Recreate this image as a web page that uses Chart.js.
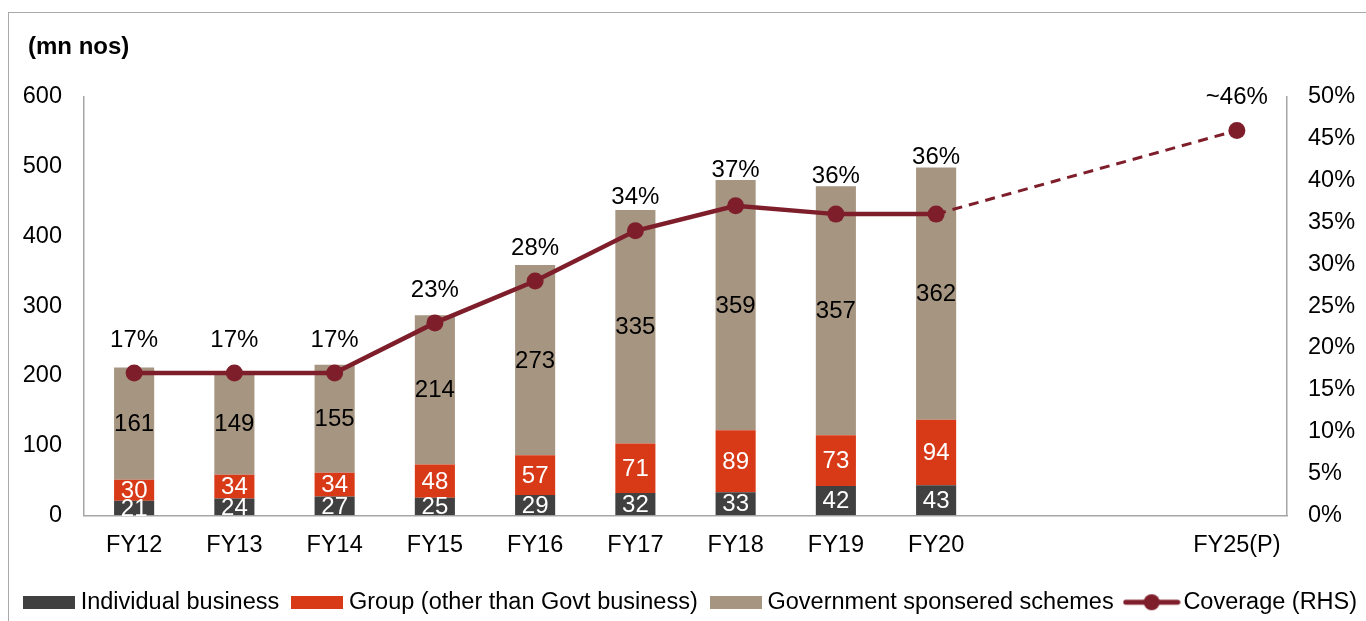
<!DOCTYPE html>
<html>
<head>
<meta charset="utf-8">
<title>Lives covered</title>
<script src="https://cdn.jsdelivr.net/npm/chart.js@4/dist/chart.umd.min.js"></script>
<style>
    html, body { margin: 0; padding: 0; background: #fff; overflow: hidden; }
    #frame {
        position: absolute; left: 8px; top: 12px;
        width: 1400px; height: 700px;
        border: 1.5px solid #a9a9a9;
    }
    #wrap { position: absolute; left: 0; top: 0; width: 1366px; height: 621px; }
</style>
</head>
<body>
<div id="frame"></div>
<div id="wrap"><canvas id="livesChart"></canvas></div>
<script>
// ====================================
// DATA
// ====================================

const years = ['FY12', 'FY13', 'FY14', 'FY15', 'FY16', 'FY17', 'FY18', 'FY19', 'FY20', '', '', 'FY25(P)'];
const individualBusiness = [21, 24, 27, 25, 29, 32, 33, 42, 43, null, null, null];
const groupBusiness = [30, 34, 34, 48, 57, 71, 89, 73, 94, null, null, null];
const govtSchemes = [161, 149, 155, 214, 273, 335, 359, 357, 362, null, null, null];
const coverage = [17, 17, 17, 23, 28, 34, 37, 36, 36, null, null, 46];
const projectedIndex = 11;

const leftTicks = [0, 100, 200, 300, 400, 500, 600];
const rightTicks = [0, 5, 10, 15, 20, 25, 30, 35, 40, 45, 50];
const unitTitle = '(mn nos)';

// ====================================
// STYLE
// ====================================

const FONT = "'Liberation Sans', Arial, sans-serif";
const COLORS = {
    individual: '#404040',
    group: '#d83a17',
    govt: '#a69581',
    coverage: '#7f1e2b',
    axis: '#a6a6a6'
};

// Little canvases used as legend markers
function boxMarker(color) {
    const c = document.createElement('canvas');
    c.width = 52; c.height = 13;
    const g = c.getContext('2d');
    g.fillStyle = color;
    g.fillRect(0, 0, 52, 13);
    return c;
}

function lineMarker(color) {
    const c = document.createElement('canvas');
    c.width = 58; c.height = 18;
    const g = c.getContext('2d');
    g.strokeStyle = color;
    g.lineWidth = 5;
    g.lineCap = 'round';
    g.beginPath();
    g.moveTo(3, 9); g.lineTo(55, 9);
    g.stroke();
    g.fillStyle = color;
    g.beginPath();
    g.arc(29, 9, 8, 0, Math.PI * 2);
    g.fill();
    return c;
}

// Unit caption in the top-left corner
const unitCaption = {
    id: 'unitCaption',
    afterDraw(chart) {
        const ctx = chart.ctx;
        ctx.save();
        ctx.font = 'bold 24px ' + FONT;
        ctx.fillStyle = '#000';
        ctx.textAlign = 'left';
        ctx.textBaseline = 'middle';
        ctx.fillText(unitTitle, 28, 47);
        ctx.restore();
    }
};

// The legend row is a touch right of centre
const legendNudge = {
    id: 'legendNudge',
    afterLayout(chart) {
        chart.legend.left += 10;
        chart.legend.right += 10;
    }
};

// Value labels inside the bars and above the coverage points
const valueLabels = {
    id: 'valueLabels',
    afterDatasetsDraw(chart) {
        const ctx = chart.ctx;
        ctx.save();
        ctx.font = '24px ' + FONT;
        ctx.textAlign = 'center';
        ctx.textBaseline = 'middle';

        const barColors = ['#ffffff', '#ffffff', '#000000'];
        for (let d = 0; d < 3; d++) {
            const meta = chart.getDatasetMeta(d);
            const values = chart.data.datasets[d].data;
            meta.data.forEach((bar, i) => {
                if (values[i] == null) return;
                ctx.fillStyle = barColors[d];
                ctx.fillText(values[i], bar.x, (bar.y + bar.base) / 2 + 1);
            });
        }

        // percentages go above the point, lifted clear of the bar top if needed
        const lineMeta = chart.getDatasetMeta(3);
        const topMeta = chart.getDatasetMeta(2);
        ctx.fillStyle = '#000000';
        lineMeta.data.forEach((pt, i) => {
            if (coverage[i] == null) return;
            let y = pt.y - 33;
            const bar = topMeta.data[i];
            if (govtSchemes[i] != null) y = Math.min(y, bar.y - 10);
            const text = (i === projectedIndex ? '~' : '') + coverage[i] + '%';
            ctx.fillText(text, pt.x, y);
        });
        ctx.restore();
    }
};

const legendMarkers = [
    boxMarker(COLORS.individual),
    boxMarker(COLORS.group),
    boxMarker(COLORS.govt),
    lineMarker(COLORS.coverage)
];

// ====================================
// CHART
// ====================================

const ctx = document.getElementById('livesChart');

new Chart(ctx, {
    data: {
        labels: years,
        datasets: [
            {
                type: 'bar',
                label: 'Individual business',
                data: individualBusiness,
                backgroundColor: COLORS.individual,
                yAxisID: 'y',
                order: 1,
                barPercentage: 0.8,
                categoryPercentage: 0.5
            },
            {
                type: 'bar',
                label: 'Group (other than Govt business)',
                data: groupBusiness,
                backgroundColor: COLORS.group,
                yAxisID: 'y',
                order: 1,
                barPercentage: 0.8,
                categoryPercentage: 0.5
            },
            {
                type: 'bar',
                label: 'Government sponsered schemes',
                data: govtSchemes,
                backgroundColor: COLORS.govt,
                yAxisID: 'y',
                order: 1,
                barPercentage: 0.8,
                categoryPercentage: 0.5
            },
            {
                type: 'line',
                label: 'Coverage (RHS)',
                data: coverage,
                yAxisID: 'y1',
                order: 0,
                borderColor: COLORS.coverage,
                backgroundColor: COLORS.coverage,
                borderWidth: 4.5,
                pointRadius: 8.5,
                pointBorderWidth: 0,
                spanGaps: true,
                tension: 0,
                segment: {
                    borderDash: c => c.p1DataIndex === projectedIndex ? [10, 7] : undefined,
                    borderWidth: c => c.p1DataIndex === projectedIndex ? 3 : 4.5
                }
            }
        ]
    },
    options: {
        responsive: true,
        maintainAspectRatio: false,
        animation: false,
        layout: { padding: { left: 0, right: 0, top: 97, bottom: -3 } },
        plugins: {
            tooltip: { enabled: false },
            title: { display: false },
            legend: {
                position: 'bottom',
                labels: {
                    color: '#000',
                    font: { family: FONT, size: 23.5 },
                    usePointStyle: true,
                    pointStyleWidth: 40,
                    padding: 18,
                    generateLabels: chart => chart.data.datasets.map((ds, i) => ({
                        text: ds.label,
                        pointStyle: legendMarkers[i],
                        fillStyle: 'transparent',
                        strokeStyle: 'transparent',
                        lineWidth: 0,
                        hidden: false,
                        datasetIndex: i
                    }))
                }
            }
        },
        scales: {
            x: {
                stacked: true,
                afterFit: s => { s.height -= 3; },
                grid: { display: false, drawTicks: false },
                border: { display: true, color: COLORS.axis, width: 1.5 },
                ticks: {
                    color: '#000',
                    font: { family: FONT, size: 23.5 },
                    padding: 16,
                    maxRotation: 0,
                    autoSkip: false
                }
            },
            y: {
                stacked: true,
                position: 'left',
                min: 0,
                max: 600,
                afterBuildTicks: s => { s.ticks = leftTicks.map(v => ({ value: v })); },
                afterFit: s => { s.width = 84; },
                grid: { display: false, drawTicks: true, tickLength: 6, tickColor: COLORS.axis, tickWidth: 1.5 },
                border: { display: true, color: COLORS.axis, width: 1.5 },
                ticks: {
                    color: '#000',
                    font: { family: FONT, size: 23.5 },
                    padding: 16
                }
            },
            y1: {
                stacked: false,
                position: 'right',
                min: 0,
                max: 50,
                afterBuildTicks: s => { s.ticks = rightTicks.map(v => ({ value: v })); },
                afterFit: s => { s.width = 79; },
                grid: { display: false, drawTicks: true, tickLength: 6, tickColor: COLORS.axis, tickWidth: 1.5 },
                border: { display: true, color: COLORS.axis, width: 1.5 },
                ticks: {
                    color: '#000',
                    font: { family: FONT, size: 23.5 },
                    padding: 15,
                    callback: v => v + '%'
                }
            }
        }
    },
    plugins: [valueLabels, unitCaption, legendNudge]
});
</script>
</body>
</html>
